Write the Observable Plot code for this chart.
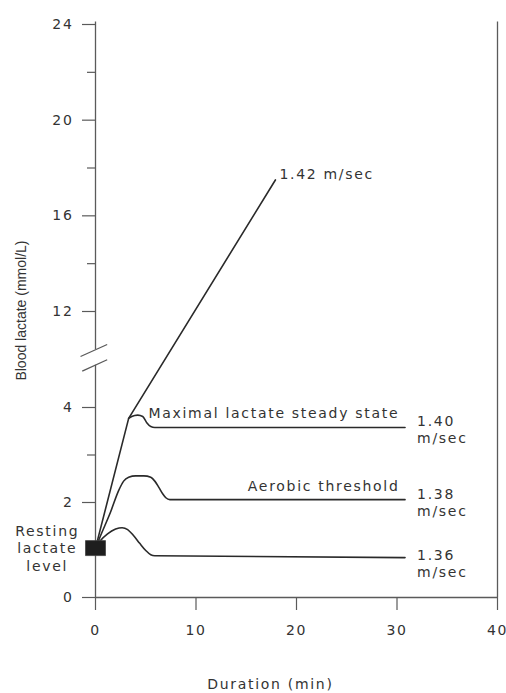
<!DOCTYPE html>
<html>
<head>
<meta charset="utf-8">
<script src="https://cdn.jsdelivr.net/npm/d3@7"></script>
<script src="https://cdn.jsdelivr.net/npm/@observablehq/plot@0.6"></script>
<style>
  html, body { margin: 0; padding: 0; background: #fff; }
</style>
</head>
<body>
<div id="chart"></div>
<script>
// ---- data ----
const yTicksMajor = [0, 2, 4, 12, 16, 20, 24];
const yTicksMinor = [1, 3, 14, 18, 22];
const xTicks = [0, 10, 20, 30, 40];

const restX = [0];
const restY = [1.04];

// 1.42 m/sec
const x142 = [0, 3.3, 17.9];
const y142 = [1.04, 3.77, 17.5];
// 1.40 m/sec (maximal lactate steady state), branches off at the kink
const x140 = [3.3, 3.6, 4.2, 4.7, 5.1, 5.5, 5.9, 30.8];
const y140 = [3.77, 3.81, 3.84, 3.81, 3.68, 3.6, 3.58, 3.58];
// 1.38 m/sec (aerobic threshold)
const x138 = [0, 0.5, 1.5, 2.3, 2.8, 3.3, 4.0, 4.8, 5.5, 5.9, 6.3, 6.7, 7.0, 7.4, 30.8];
const y138 = [1.04, 1.3, 1.8, 2.25, 2.45, 2.53, 2.56, 2.56, 2.53, 2.45, 2.32, 2.18, 2.1, 2.06, 2.06];
// 1.36 m/sec
const x136 = [0, 0.5, 1.2, 2.0, 2.65, 3.2, 3.8, 4.4, 5.0, 5.5, 5.9, 30.8];
const y136 = [1.04, 1.2, 1.34, 1.44, 1.47, 1.43, 1.3, 1.14, 0.99, 0.9, 0.88, 0.84];

// annotation texts and where they sit (data units)
const noteText   = ["1.42 m/sec", "Maximal lactate steady state", "Aerobic threshold"];
const noteX      = [18.3, 5.27, 30.25];
const noteY      = [17.73, 3.87, 2.34];
const noteAnchor = ["start", "start", "end"];

const speedText = ["1.40\nm/sec", "1.38\nm/sec", "1.36\nm/sec"];
const speedX    = [32.0, 32.0, 32.0];
const speedY    = [3.55, 2.01, 0.73];

const restText = ["Resting\nlactate\nlevel"];
const restTextX = [-4.8];
const restTextY = [1.05];

const xLabel = "Duration (min)";
const xLabelPos = [17.4, -1.83];
const yLabel = "Blood lactate (mmol/L)";
const yLabelPos = [-7.4, 12.04];

// y axis line segments either side of the break, and the break marks
const axisSegLow = [0, 7.52];
const axisSegHigh = [8.81, 24.1];
const breakX1 = [-1.49, -1.32], breakY1 = [8.25, 7.03];
const breakX2 = [1.16, 1.16],   breakY2 = [9.25, 7.98];

// ---- build tables ----
const pts = (xs, ys) => xs.map((x, i) => ({x, y: ys[i]}));
const notes = noteText.map((t, i) => ({t, x: noteX[i], y: noteY[i], a: noteAnchor[i]}));
const speeds = speedText.map((t, i) => ({t, x: speedX[i], y: speedY[i]}));
const breaks = breakX1.map((_, i) => ({x1: breakX1[i], y1: breakY1[i], x2: breakX2[i], y2: breakY2[i]}));

const lineColor = "#2a2a2a";
const axisColor = "#5a5a5a";
const textColor = "#333";

const restSymbol = { draw(ctx) { ctx.rect(-10, -7.5, 20, 15); } };

const chart = Plot.plot({
  width: 506,
  height: 693,
  marginLeft: 95,
  marginRight: 9,
  marginTop: 24,
  marginBottom: 96,
  style: { background: "#fff", color: textColor, fontFamily: "'DejaVu Sans', sans-serif", fontSize: "14px", letterSpacing: "1.7px" },
  x: { type: "linear", domain: [0, 40] },
  y: { type: "linear", domain: [0, 4, 12, 24], range: [597, 407, 311, 24] },
  marks: [
    // axis lines
    Plot.ruleX([0], { y1: axisSegLow[0], y2: axisSegLow[1], stroke: axisColor, strokeWidth: 1.3 }),
    Plot.ruleX([0], { y1: axisSegHigh[0], y2: axisSegHigh[1], stroke: axisColor, strokeWidth: 1.3 }),
    Plot.ruleX([40], { y1: 0, y2: 24.1, stroke: axisColor, strokeWidth: 1.3 }),
    Plot.ruleY([0], { x1: 0, x2: 40, stroke: axisColor, strokeWidth: 1.3 }),
    Plot.link(breaks, { x1: "x1", y1: "y1", x2: "x2", y2: "y2", stroke: axisColor, strokeWidth: 1.3 }),
    Plot.axisY({ ticks: yTicksMajor, tickSize: 13, tickPadding: 9, stroke: axisColor, strokeWidth: 1.2, label: null, fill: textColor }),
    Plot.axisY({ ticks: yTicksMinor, tickSize: 8, tickFormat: () => "", stroke: axisColor, strokeWidth: 1.2, label: null }),
    Plot.axisX({ ticks: xTicks, tickSize: 13, tickPadding: 15, stroke: axisColor, strokeWidth: 1.2, label: null, fill: textColor }),
    // curves
    Plot.line(pts(x142, y142), { x: "x", y: "y", stroke: lineColor, strokeWidth: 1.6 }),
    Plot.line(pts(x140, y140), { x: "x", y: "y", stroke: lineColor, strokeWidth: 1.6, curve: "monotone-x" }),
    Plot.line(pts(x138, y138), { x: "x", y: "y", stroke: lineColor, strokeWidth: 1.6, curve: "monotone-x" }),
    Plot.line(pts(x136, y136), { x: "x", y: "y", stroke: lineColor, strokeWidth: 1.6, curve: "monotone-x" }),
    // resting lactate square
    Plot.dot(pts(restX, restY), { x: "x", y: "y", symbol: restSymbol, r: 1, fill: "#1e1e1e", stroke: "#444", strokeWidth: 0.8 }),
    // annotations
    Plot.text(notes, { x: "x", y: "y", text: "t", textAnchor: "start", lineAnchor: "middle", fill: textColor, filter: d => d.a === "start" }),
    Plot.text(notes, { x: "x", y: "y", text: "t", textAnchor: "end", lineAnchor: "middle", fill: textColor, filter: d => d.a === "end" }),
    Plot.text(speeds, { x: "x", y: "y", text: "t", textAnchor: "start", lineAnchor: "middle", lineHeight: 1.25, fill: textColor }),
    Plot.text(pts(restTextX, restTextY), { x: "x", y: "y", text: () => restText[0], textAnchor: "middle", lineAnchor: "middle", lineHeight: 1.25, fill: textColor }),
    Plot.text([xLabel], { x: () => xLabelPos[0], y: () => xLabelPos[1], text: d => d, textAnchor: "middle", lineAnchor: "middle", fill: textColor }),
    Plot.text([yLabel], { x: () => yLabelPos[0], y: () => yLabelPos[1], text: d => d, rotate: -90, textAnchor: "middle", lineAnchor: "middle", fill: textColor, fontFamily: "'Liberation Sans', Arial, sans-serif", fontSize: 14 })
  ]
});
document.getElementById("chart").appendChild(chart);
// the rotated axis title keeps natural spacing
chart.querySelectorAll("text").forEach(t => { if (t.textContent === yLabel) t.style.letterSpacing = "0px"; });
</script>
</body>
</html>
